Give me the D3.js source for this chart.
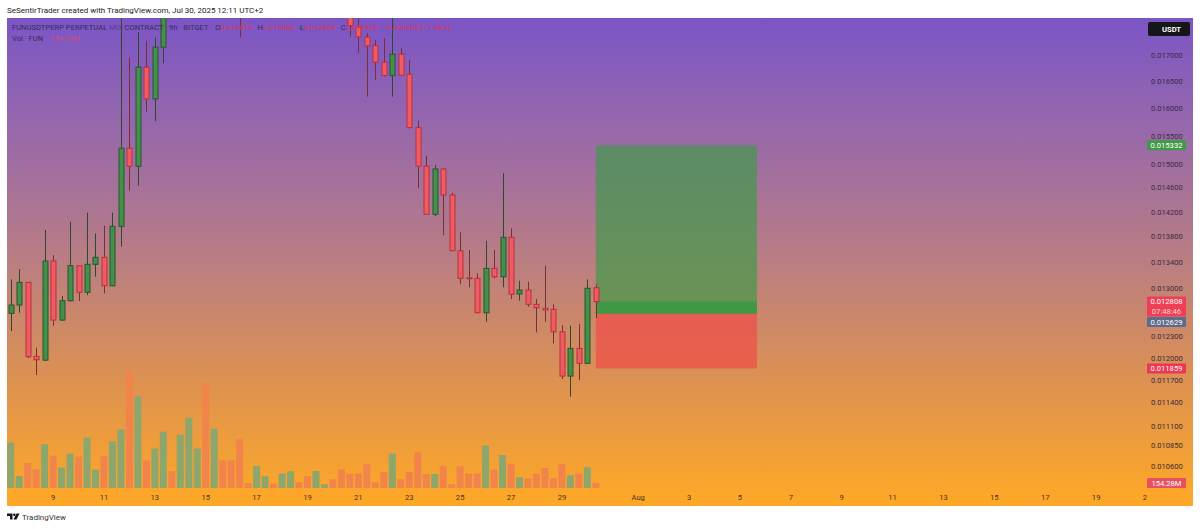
<!DOCTYPE html>
<html><head><meta charset="utf-8">
<script src="https://cdn.jsdelivr.net/npm/d3@7"></script>
<style>
html,body{margin:0;padding:0;background:#fff;}
svg{display:block;font-family:Roboto,"Noto Sans",sans-serif;}
</style></head><body>
<svg id="chart" width="1200" height="529"></svg>
<script>
// ---------- data (8h candles, FUNUSDT perpetual) ----------
const barStart = Date.UTC(2025, 6, 7, 8); // first candle: Jul 7 08:00
const barHours = 8;
const opens = [0.012635,0.012757,0.013094,0.012025,0.011973,0.013420,0.012538,0.012820,0.013347,0.012945,
0.013369,0.013477,0.013043,0.013967,0.015280,0.014967,0.016775,0.016173,0.017166,0.01850,
0.01830,0.01940,0.02030,0.02100,0.01950,0.02040,0.01990,0.01920,0.01850,0.01830,
0.01900,0.01930,0.01900,0.01940,0.01970,0.01945,0.01900,0.01930,0.01935,0.01880,
0.01820,0.017570,0.017365,0.017197,0.016872,0.016613,0.017028,0.016640,0.015647,0.014967,
0.014161,0.014920,0.014480,0.013580,0.013164,0.013155,0.012644,0.013307,0.013179,0.013791,
0.012920,0.012979,0.012767,0.012708,0.012694,0.012370,0.011755,0.012136,0.011928,0.013013];
const highs = [0.013140,0.013297,0.013100,0.012145,0.013908,0.013513,0.012890,0.014041,0.013350,0.014188,
0.013855,0.013977,0.014188,0.018000,0.016961,0.017465,0.017291,0.017357,0.01880,0.01920,
0.01960,0.02080,0.02150,0.02180,0.02090,0.02070,0.02020,0.01960,0.01880,0.01930,
0.01950,0.01940,0.01960,0.01990,0.01980,0.01960,0.01950,0.01945,0.01940,0.01900,
0.01840,0.017760,0.017445,0.017311,0.017345,0.017850,0.017146,0.016916,0.015774,0.015150,
0.014989,0.014932,0.014518,0.013871,0.013591,0.013231,0.013737,0.013591,0.014846,0.013935,
0.013119,0.013104,0.012845,0.013347,0.012767,0.012466,0.012456,0.012480,0.013140,0.013066];
const lows = [0.012380,0.012644,0.012001,0.011768,0.011960,0.012456,0.012524,0.012805,0.012816,0.012904,
0.013179,0.012930,0.013040,0.013643,0.014552,0.014636,0.015938,0.015768,0.016852,0.01810,
0.01773,0.01900,0.01990,0.01880,0.01910,0.01960,0.01900,0.01736,0.01810,0.01815,
0.01880,0.01890,0.01885,0.01920,0.01930,0.01880,0.01870,0.01915,0.01860,0.01800,
0.017377,0.017052,0.016216,0.016531,0.016594,0.016216,0.016608,0.015636,0.014592,0.014155,
0.014134,0.013823,0.013575,0.013069,0.013020,0.012640,0.012514,0.013155,0.013020,0.012845,
0.012820,0.012732,0.012362,0.012514,0.012206,0.011714,0.011478,0.011701,0.011925,0.012568];
const closes = [0.012757,0.013094,0.012019,0.011978,0.013420,0.012538,0.012820,0.013347,0.012945,0.013369,
0.013477,0.013043,0.013967,0.015280,0.014967,0.016775,0.016173,0.017166,0.01850,0.01830,
0.01940,0.02030,0.02100,0.01950,0.02040,0.01990,0.01920,0.01850,0.01830,0.01900,
0.01930,0.01900,0.01940,0.01970,0.01945,0.01900,0.01930,0.01935,0.01880,0.01820,
0.017598,0.017370,0.017192,0.016872,0.016613,0.017028,0.016620,0.015647,0.014967,0.014161,
0.014920,0.014480,0.013580,0.013155,0.013160,0.012644,0.013307,0.013179,0.013791,0.012915,
0.012979,0.012767,0.012717,0.012684,0.012370,0.011755,0.012136,0.011928,0.013005,0.012808];
const volumesM = [1373,363,756,566,1322,980,617,1041,950,1525,
557,968,1413,1776,3560,2774,838,1192,1706,505,
1615,2130,1192,3188,1797,838,838,1473,151,666,
354,133,436,505,172,354,514,112,263,566,
436,436,717,172,484,1041,263,484,1080,424,
424,656,112,656,436,436,1283,557,998,738,
324,293,436,605,293,717,384,436,626,154.28];
const priceTicks = [0.0170,0.0165,0.0160,0.0155,0.0150,0.0146,0.0142,0.0138,0.0134,0.0130,0.0123,0.0120,0.0117,0.0114,0.0111,0.01085,0.0106];
const dateTicks = ["2025-07-09","2025-07-11","2025-07-13","2025-07-15","2025-07-17","2025-07-19","2025-07-21","2025-07-23","2025-07-25","2025-07-27","2025-07-29",
"2025-08-01","2025-08-03","2025-08-05","2025-08-07","2025-08-09","2025-08-11","2025-08-13","2025-08-15","2025-08-17","2025-08-19","2025-08-21"];
// long position tool
const posEntry = 0.012629, posTarget = 0.015332, posStop = 0.011859, lastPrice = 0.012808;
const posStartBar = 69, posBars = 19;
const countdown = "07:48:46";
const lastVolLabel = "154.28M";

// ---------- layout ----------
const svg = d3.select("#chart");
const L = 7, T = 18, R = 1193, B = 506, paneR = 1146, paneB = 488;
const H8 = barHours * 3600e3;
const times = opens.map((_, i) => new Date(barStart + i * H8));
const x = d3.scaleUtc()
  .domain([new Date(barStart - 0.4363 * H8), new Date(barStart + 133.88 * H8)])
  .range([L, paneR]);
const y = d3.scaleLog().domain([0.010334, 0.017752]).range([paneB, T]);
const yVol = d3.scaleLinear().domain([0, 4000]).range([paneB, paneB - 132.2]);

// background gradient
const defs = svg.append("defs");
const g = defs.append("linearGradient").attr("id","bg").attr("x1",0).attr("y1",0).attr("x2",0).attr("y2",1);
[[0,"#7B55C6"],[0.25,"#9A6AA8"],[0.5,"#BA7E82"],[0.75,"#DE9250"],[0.96,"#FAA52C"],[1,"#FFA726"]]
  .forEach(([o,c]) => g.append("stop").attr("offset",o).attr("stop-color",c));
svg.append("rect").attr("x",L).attr("y",T).attr("width",R-L).attr("height",B-T).attr("fill","url(#bg)");
defs.append("clipPath").attr("id","pane").append("rect").attr("x",L).attr("y",T).attr("width",paneR-L).attr("height",paneB-T);
defs.append("clipPath").attr("id","taxis").append("rect").attr("x",L).attr("y",paneB).attr("width",paneR-L+1).attr("height",B-paneB);

const pane = svg.append("g").attr("clip-path","url(#pane)");

// volume
const upVol = "#8CA66C", dnVol = "#F0844A";
pane.append("g").selectAll("rect").data(volumesM).join("rect")
  .attr("x", (d,i) => x(times[i]) - 3.5).attr("width", 7)
  .attr("y", d => yVol(d)).attr("height", d => paneB - yVol(d))
  .attr("fill", (d,i) => closes[i] >= opens[i] ? upVol : dnVol);

// position tool
const px0 = x(times[posStartBar]), px1 = x(new Date(barStart + (posStartBar + posBars) * H8));
pane.append("rect").attr("x",px0).attr("width",px1-px0).attr("y",y(posTarget)).attr("height",y(posEntry)-y(posTarget))
  .attr("fill","#3E9B48").attr("fill-opacity",0.68);
pane.append("rect").attr("x",px0).attr("width",px1-px0).attr("y",y(lastPrice)).attr("height",y(posEntry)-y(lastPrice))
  .attr("fill","#2E9A3C").attr("fill-opacity",0.7);
pane.append("rect").attr("x",px0).attr("width",px1-px0).attr("y",y(posEntry)).attr("height",y(posStop)-y(posEntry))
  .attr("fill","#F04E48").attr("fill-opacity",0.72);

// candles
const candles = pane.append("g").selectAll("g").data(opens).join("g");
const isUp = i => closes[i] >= opens[i];
candles.append("line")
  .attr("x1",(d,i)=>Math.round(x(times[i]))+0.5).attr("x2",(d,i)=>Math.round(x(times[i]))+0.5)
  .attr("y1",(d,i)=>y(highs[i])).attr("y2",(d,i)=>y(lows[i]))
  .attr("stroke",(d,i)=>isUp(i)?"#2C4A2E":"#7A2E36").attr("stroke-width",1);
candles.append("rect")
  .attr("x",(d,i)=>Math.round(x(times[i]))-2).attr("width",5)
  .attr("y",(d,i)=>y(Math.max(opens[i],closes[i])))
  .attr("height",(d,i)=>Math.max(1,y(Math.min(opens[i],closes[i]))-y(Math.max(opens[i],closes[i]))))
  .attr("fill",(d,i)=>isUp(i)?"#42904A":"#EF5A63")
  .attr("stroke",(d,i)=>isUp(i)?"#27562C":"#B5323F").attr("stroke-width",1);

// time axis
const tAx = svg.append("g").attr("clip-path","url(#taxis)");
const fmtDay = d3.utcFormat("%-d"), fmtMon = d3.utcFormat("%b");
tAx.selectAll("text").data(dateTicks.map(s => new Date(s + "T00:00:00Z"))).join("text")
  .attr("x", d => x(d)).attr("y", 497).attr("dy","0.35em").attr("text-anchor","middle")
  .attr("font-size",7.6).attr("fill","#4A3318")
  .text(d => d.getUTCDate() === 1 ? fmtMon(d) : fmtDay(d));

// price axis
const pAx = svg.append("g");
pAx.selectAll("text").data(priceTicks).join("text")
  .attr("x",1151).attr("y",d=>y(d)).attr("dy","0.35em").attr("font-size",7.6).attr("fill","#3C2B3E")
  .text(d3.format(".6f"));
// USDT badge
pAx.append("rect").attr("x",1148).attr("y",22).attr("width",42).attr("height",14).attr("rx",2).attr("fill","#15151a");
pAx.append("text").attr("x",1162).attr("y",29).attr("dy","0.35em").attr("font-size",7.6).attr("font-weight","bold").attr("fill","#fff").text("USDT");
function badge(v, bg, text, h, cy) {
  pAx.append("rect").attr("x",1147).attr("y",cy - h/2).attr("width",39).attr("height",h).attr("rx",1).attr("fill",bg);
  pAx.append("text").attr("x",1166.5).attr("y",cy).attr("dy","0.35em").attr("text-anchor","middle")
    .attr("font-size",7.6).attr("fill","#fff").text(text);
}
badge(posTarget, "#3F9A45", d3.format(".6f")(posTarget), 10, y(posTarget));
// last price with countdown
const lp = y(lastPrice);
pAx.append("rect").attr("x",1147).attr("y",lp-5).attr("width",39).attr("height",20).attr("rx",1).attr("fill","#EE3F55");
pAx.append("text").attr("x",1166.5).attr("y",lp).attr("dy","0.35em").attr("text-anchor","middle").attr("font-size",7.6).attr("fill","#fff").text(d3.format(".6f")(lastPrice));
pAx.append("text").attr("x",1166.5).attr("y",lp+10).attr("dy","0.35em").attr("text-anchor","middle").attr("font-size",7.6).attr("fill","#FFD6DC").text(countdown);
badge(posEntry, "#5D6B8C", d3.format(".6f")(posEntry), 10, lp + 20.5);
badge(posStop, "#EE3552", d3.format(".6f")(posStop), 10, y(posStop));
badge(volumesM[volumesM.length-1], "#E8505C", lastVolLabel, 10, yVol(volumesM[volumesM.length-1]));

// header / legend
svg.append("text").attr("x",7).attr("y",10).attr("dy","0.35em").attr("font-size",8).attr("fill","#222").text("SeSentirTrader created with TradingView.com, Jul 30, 2025 12:11 UTC+2");
const i0 = opens.length - 1;
const fmt6 = d3.format(".6f");
const chg = closes[i0] - opens[i0];
const leg = svg.append("text").attr("x",12).attr("y",27).attr("dy","0.35em").attr("font-size",7.6).attr("fill","#3A2A55");
leg.append("tspan").text("FUNUSDTPERP PERPETUAL ");
leg.append("tspan").attr("fill-opacity",0.55).text("MIX");
leg.append("tspan").text(" CONTRACT · 9h · BITGET ");
[["O",opens[i0]],["H",highs[i0]],["L",lows[i0]],["C",closes[i0]]].forEach(([k,v]) => {
  leg.append("tspan").attr("dx",5).text(k);
  leg.append("tspan").attr("fill","#D8345A").text(fmt6(v));
});
leg.append("tspan").attr("dx",5).attr("fill","#D8345A").text("−" + fmt6(Math.abs(chg)) + " (−" + (Math.abs(chg)/opens[i0]*100).toFixed(2) + "%)");
const leg2 = svg.append("text").attr("x",12).attr("y",38).attr("dy","0.35em").attr("font-size",7.6).attr("fill","#3A2A55");
leg2.append("tspan").text("Vol · FUN");
leg2.append("tspan").attr("dx",7).attr("fill","#E0486A").attr("fill-opacity",0.75).text(lastVolLabel);

// footer logo
const ft = svg.append("g");
ft.append("path").attr("d","M7,513.5h5.5v6h-2.5v-3.5h-3z").attr("fill","#131722");
ft.append("circle").attr("cx",14.3).attr("cy",514.8).attr("r",1.3).attr("fill","#131722");
ft.append("path").attr("d","M16.5,513.5h3l-3,6h-3z").attr("fill","#131722");
ft.append("text").attr("x",22).attr("y",517).attr("dy","0.35em").attr("font-size",8).attr("fill","#333").text("TradingView");
</script>
</body></html>
